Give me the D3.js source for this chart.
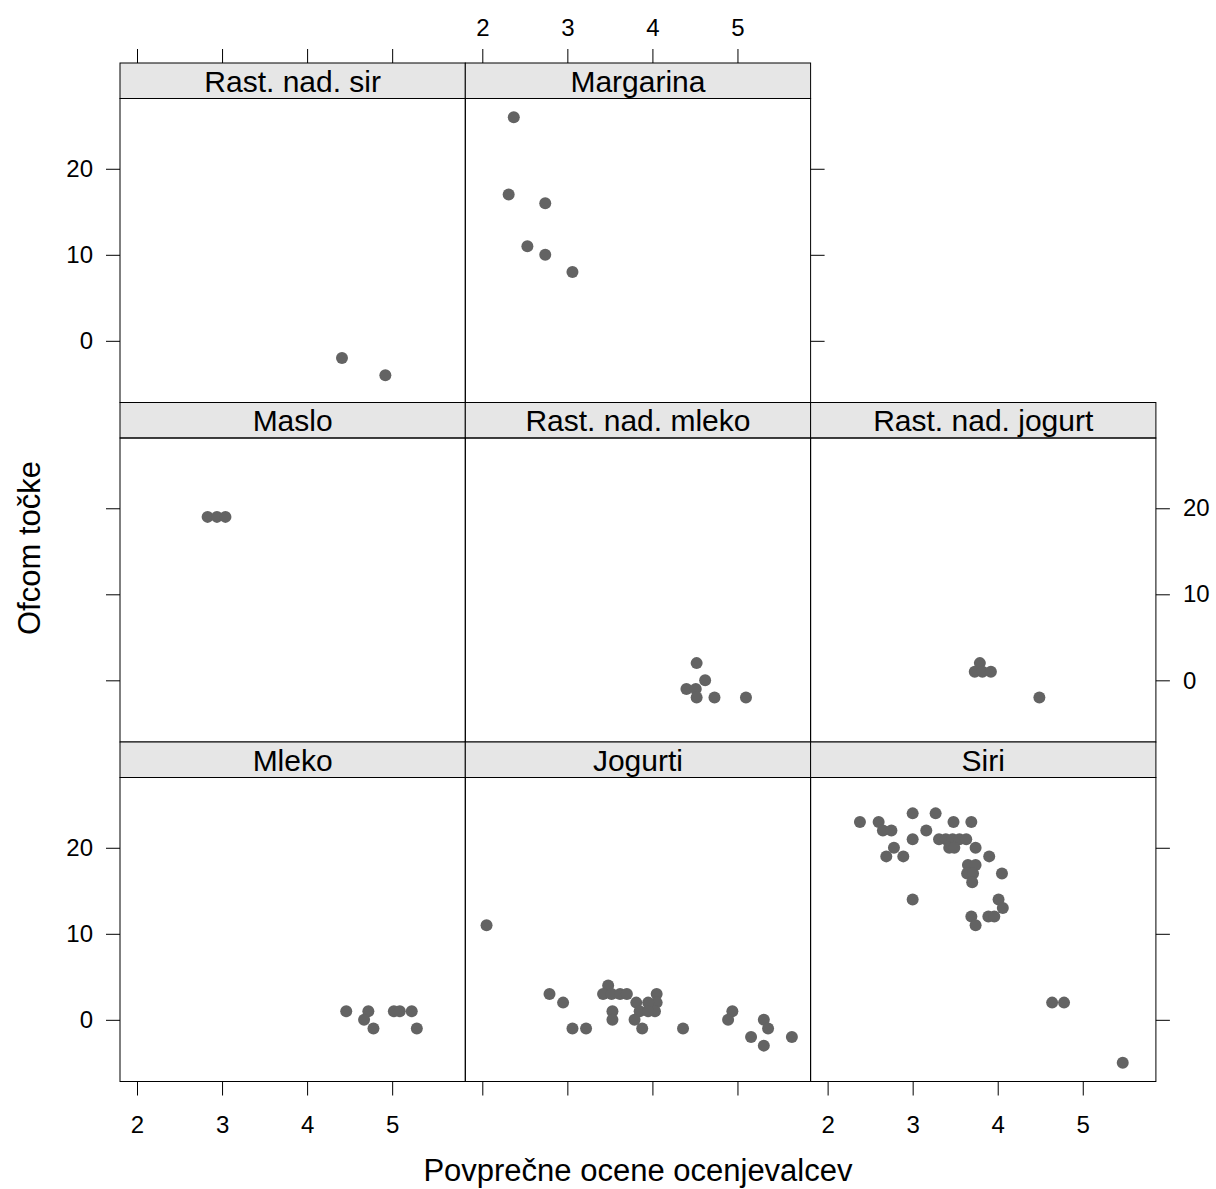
<!DOCTYPE html>
<html>
<head>
<meta charset="utf-8">
<script src="https://cdn.jsdelivr.net/npm/d3@7"></script>
<style>
  body { margin: 0; background: #fff; }
  text { font-family: "Liberation Sans", Arial, sans-serif; fill: #000; }
</style>
</head>
<body>
<svg id="chart" width="1216" height="1189"></svg>
<script>
// tick values + axis limits (lattice pads the data range by 7%)
const xTicks = [2, 3, 4, 5]
const yTicks = [0, 10, 20]
const xLim = [1.8, 5.86]
const yLim = [-7.17, 28.17]

// panel order as drawn, top row first (null == empty cell)
const layoutRows = [
  ['Rast. nad. sir', 'Margarina', null],
  ['Maslo', 'Rast. nad. mleko', 'Rast. nad. jogurt'],
  ['Mleko', 'Jogurti', 'Siri']
]

// [povprecna ocena, ofcom tocke] per group
const rastSir = [[4.41, -2], [4.92, -4]]
const margarina = [[2.37, 26], [2.31, 17], [2.74, 16], [2.53, 11], [2.74, 10], [3.06, 8]]
const maslo = [[2.83, 19], [2.94, 19], [3.04, 19]]
const rastMleko = [[4.52, 2], [4.62, 0], [4.40, -1], [4.51, -1], [4.52, -2], [4.73, -2], [5.10, -2]]
const rastJogurt = [[3.79, 2], [3.73, 1], [3.82, 1], [3.92, 1], [4.49, -2]]
const mleko = [[4.46, 1], [4.72, 1], [4.67, 0], [4.78, -1], [5.02, 1], [5.09, 1], [5.23, 1], [5.29, -1]]
const jogurti = [[2.05, 11], [2.79, 3], [2.95, 2], [3.06, -1], [3.22, -1], [3.48, 4], [3.42, 3], [3.52, 3],
  [3.62, 3], [3.70, 3], [3.53, 1], [3.53, 0], [3.81, 2], [3.85, 1], [3.79, 0], [3.88, -1], [4.05, 3],
  [4.05, 2], [4.03, 1], [3.95, 2], [3.95, 1], [4.36, -1], [4.94, 1], [4.89, 0], [5.31, 0], [5.36, -1],
  [5.16, -2], [5.31, -3], [5.64, -2]]
const siri = [[2.38, 23], [2.60, 23], [2.65, 22], [2.75, 22], [2.78, 20], [2.69, 19], [2.89, 19], [3.00, 24],
  [3.00, 21], [3.16, 22], [3.27, 24], [3.48, 23], [3.69, 23], [3.31, 21], [3.39, 21], [3.47, 21], [3.55, 21],
  [3.63, 21], [3.43, 20], [3.49, 20], [3.74, 20], [3.90, 19], [3.65, 18], [3.74, 18], [3.64, 17], [3.71, 17],
  [3.70, 16], [4.05, 17], [3.00, 14], [4.01, 14], [4.06, 13], [3.69, 12], [3.74, 11], [3.89, 12], [3.96, 12],
  [4.64, 2], [4.78, 2], [5.47, -5]]

const groups = {
  'Rast. nad. sir': rastSir,
  'Margarina': margarina,
  'Maslo': maslo,
  'Rast. nad. mleko': rastMleko,
  'Rast. nad. jogurt': rastJogurt,
  'Mleko': mleko,
  'Jogurti': jogurti,
  'Siri': siri
}

// geometry
const leftX = 120, colW = 345.3
const topY = 63, rowPitch = 339.5, stripH = 35.5, panelH = 304
const tickLen = 14, tickPad = 13
const pointColor = '#636363'

const svg = d3.select('#chart')

const xScaleFor = c => d3.scaleLinear().domain(xLim).range([leftX + c * colW, leftX + (c + 1) * colW])
const yScaleFor = r => {
  let y0 = topY + r * rowPitch + stripH
  return d3.scaleLinear().domain(yLim).range([y0 + panelH, y0])
}

const styleAxis = (g, fontSize) => {
  g.select('.domain').remove()
  g.selectAll('.tick line').attr('stroke', '#000')
  g.selectAll('.tick text').style('font-size', fontSize + 'px').attr('fill', '#000')
  return g
}

const addAxis = (axisFn, scale, ticks, labels, transform, pad) => {
  let axis = axisFn(scale).tickValues(ticks).tickSize(tickLen).tickPadding(pad || tickPad)
  axis.tickFormat(labels ? d3.format('d') : '')
  let g = svg.append('g').attr('transform', transform).call(axis)
  styleAxis(g, 24)
}

layoutRows.forEach((row, r) => {
  row.forEach((name, c) => {
    if (!name) return
    let x = xScaleFor(c), y = yScaleFor(r)
    let px = leftX + c * colW, py = topY + r * rowPitch
    let g = svg.append('g').attr('class', 'panel')

    // strip
    g.append('rect')
      .attr('x', px).attr('y', py)
      .attr('width', colW).attr('height', stripH)
      .attr('fill', '#e6e6e6').attr('stroke', '#000').attr('stroke-width', 1)
    g.append('text')
      .attr('x', px + colW / 2).attr('y', py + stripH / 2)
      .attr('text-anchor', 'middle').attr('dy', '0.36em')
      .style('font-size', '30px')
      .text(name)

    // points
    g.append('g').selectAll('circle')
      .data(groups[name])
      .enter()
      .append('circle')
        .attr('cx', d => x(d[0]))
        .attr('cy', d => y(d[1]))
        .attr('r', 6)
        .attr('fill', pointColor)

    // panel box
    g.append('rect')
      .attr('x', px).attr('y', py + stripH)
      .attr('width', colW).attr('height', panelH)
      .attr('fill', 'none').attr('stroke', '#000').attr('stroke-width', 1)
  })
})

// axes alternate like lattice: labels on one side, bare ticks on the other
const nRows = layoutRows.length
// top (row 0)
layoutRows[0].forEach((name, c) => {
  if (!name) return
  addAxis(d3.axisTop, xScaleFor(c), xTicks, c % 2 === 1, `translate(0,${topY})`)
})
// bottom (last row)
const bottomY = topY + (nRows - 1) * rowPitch + stripH + panelH
layoutRows[nRows - 1].forEach((name, c) => {
  addAxis(d3.axisBottom, xScaleFor(c), xTicks, c % 2 === 0, `translate(0,${bottomY})`, 20)
})
// left / right per row
layoutRows.forEach((row, r) => {
  addAxis(d3.axisLeft, yScaleFor(r), yTicks, r % 2 === 0, `translate(${leftX},0)`)
  let lastCol = row.reduce((m, d, i) => d ? i : m, 0)
  addAxis(d3.axisRight, yScaleFor(r), yTicks, r % 2 === 1, `translate(${leftX + (lastCol + 1) * colW},0)`)
})

// axis titles
svg.append('text')
  .attr('x', leftX + colW * 1.5).attr('y', 1181)
  .attr('text-anchor', 'middle')
  .style('font-size', '31px')
  .text('Povprečne ocene ocenjevalcev')

svg.append('text')
  .attr('transform', 'translate(40,548) rotate(-90)')
  .attr('text-anchor', 'middle')
  .style('font-size', '31px')
  .text('Ofcom točke')
</script>
</body>
</html>
